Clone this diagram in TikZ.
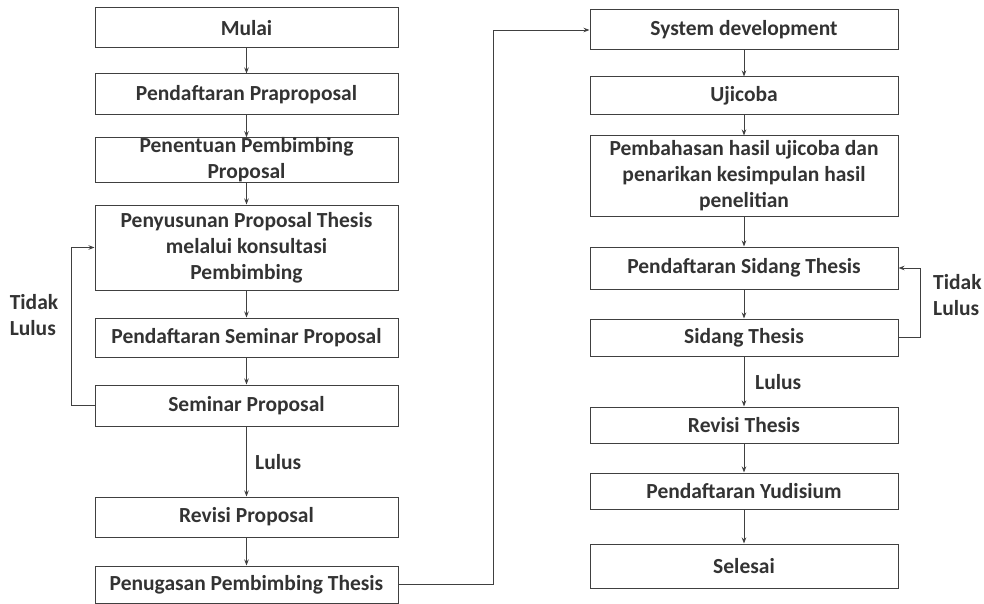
\documentclass[tikz,border=0pt]{standalone}
\usepackage{fontspec}
\setmainfont{Carlito}
\usetikzlibrary{arrows.meta}
\begin{document}
\begin{tikzpicture}[x=1pt,y=-1pt,
  every node/.style={font=\bfseries\fontsize{21.5}{26}\selectfont, text=black!80},
  lbox/.style={draw=black!75, line width=1pt, rectangle, minimum width=303pt, align=center, inner sep=0pt},
  rbox/.style={draw=black!75, line width=1pt, rectangle, minimum width=308pt, align=center, inner sep=0pt},
  conn/.style={draw=black!75, line width=0.9pt, -{Stealth[length=6pt,width=4.5pt]}},
  lbl/.style={align=left, inner sep=0pt}]
\useasboundingbox (0,0) rectangle (984,604);
% left column
\node[lbox, minimum height=40pt] (a1) at (246.5,28) {Mulai};
\node[lbox, minimum height=41pt] (a2) at (246.5,94.5) {Pendaftaran Praproposal};
\node[lbox, minimum height=44pt] (a3) at (246.5,160) {Penentuan Pembimbing\\Proposal};
\node[lbox, minimum height=85pt] (a4) at (246.5,247.5) {Penyusunan Proposal Thesis\\melalui konsultasi\\Pembimbing};
\node[lbox, minimum height=39pt] (a5) at (246.5,337.5) {Pendaftaran Seminar Proposal};
\node[lbox, minimum height=41pt] (a6) at (246.5,405.5) {Seminar Proposal};
\node[lbox, minimum height=40pt] (a7) at (246.5,517) {Revisi Proposal};
\node[lbox, minimum height=37pt] (a8) at (246.5,584.5) {Penugasan Pembimbing Thesis};
% right column
\node[rbox, minimum height=40pt] (b1) at (744,30) {System development};
\node[rbox, minimum height=38pt] (b2) at (744,96) {Ujicoba};
\node[rbox, minimum height=80pt] (b3) at (744,176) {Pembahasan hasil ujicoba dan\\penarikan kesimpulan hasil\\penelitian};
\node[rbox, minimum height=42pt] (b4) at (744,268) {Pendaftaran Sidang Thesis};
\node[rbox, minimum height=37pt] (b5) at (744,337.5) {Sidang Thesis};
\node[rbox, minimum height=36pt] (b6) at (744,425) {Revisi Thesis};
\node[rbox, minimum height=36pt] (b7) at (744,491) {Pendaftaran Yudisium};
\node[rbox, minimum height=44pt] (b8) at (744,566) {Selesai};
% labels
\node[lbl] (t1) at (34,315) {Tidak\\Lulus};
\node[lbl, anchor=west] (l1) at (255,462) {Lulus};
\node[lbl, anchor=west] (t2) at (933,295) {Tidak\\Lulus};
\node[lbl, anchor=west] (l2) at (755,382) {Lulus};
\coordinate (c1) at (493,584.5);
\coordinate (c2) at (493,30);
% connectors
\draw[conn] (a1) -- (a2);
\draw[conn] (a2) -- (a3);
\draw[conn] (a3) -- (a4);
\draw[conn] (a4) -- (a5);
\draw[conn] (a5) -- (a6);
\draw[conn] (a6) -- (a7);
\draw[conn] (a7) -- (a8);
\draw[conn] (a6.west) -- ++(-23,0) |- (a4.west);
\draw[conn] (a8.east) -- (c1) -- (c2) -- (b1.west);
\draw[conn] (b1) -- (b2);
\draw[conn] (b2) -- (b3);
\draw[conn] (b3) -- (b4);
\draw[conn] (b4) -- (b5);
\draw[conn] (b5) -- (b6);
\draw[conn] (b6) -- (b7);
\draw[conn] (b7) -- (b8);
\draw[conn] (b5.east) -- ++(22,0) |- (b4.east);
\end{tikzpicture}
\end{document}
